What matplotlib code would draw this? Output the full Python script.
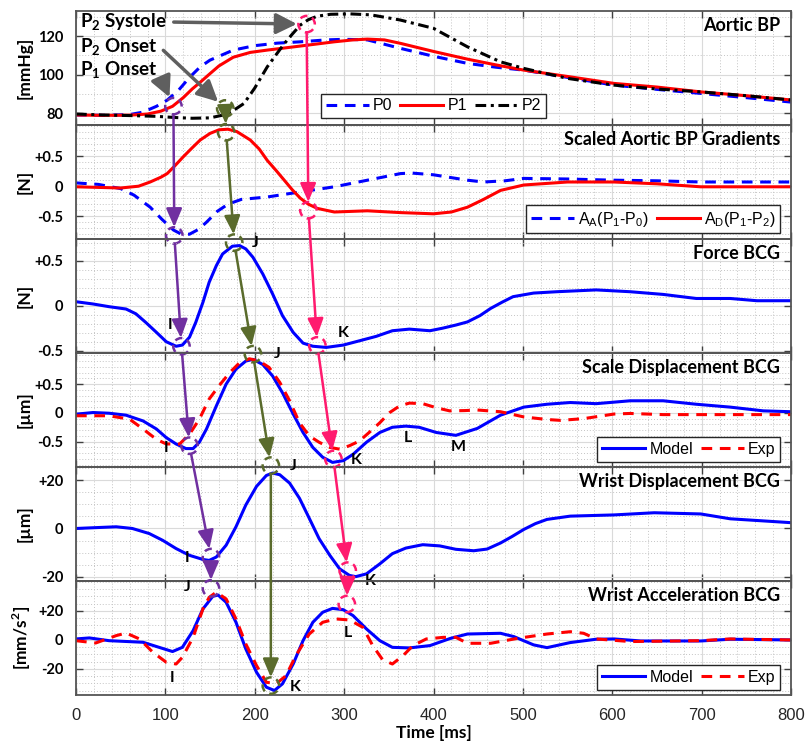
import matplotlib.pyplot as plt
from matplotlib.patches import ConnectionPatch
from matplotlib.ticker import MultipleLocator

plt.rcParams["font.family"] = ["Liberation Sans", "DejaVu Sans"]
plt.rcParams["mathtext.fontset"] = "custom"
plt.rcParams["mathtext.rm"] = "Liberation Sans"
plt.rcParams["mathtext.bf"] = "Lato:bold"
BOLD = ["Lato", "DejaVu Sans"]

# ---- values (time in ms) ----
# Aortic BP [mmHg]
t_p0 = [0, 30, 60, 75, 90, 102, 115, 127, 139, 150, 165, 176, 200, 225, 251, 280, 300, 326,
        363, 400, 438, 470, 501, 550, 602, 650, 699, 750, 800]
p0 = [79, 78.8, 79.2, 80.5, 83.5, 86.7, 92, 98.5, 104, 107.5, 110.5, 112.7, 115, 116.3, 117, 118,
      118.3, 118, 113.6, 109.5, 105.8, 103.8, 102.3, 98.5, 94.5, 92.3, 90.2, 88, 85.7]
t_p1 = [0, 30, 60, 80, 95, 108, 120, 130, 139, 150, 160, 176, 195, 214, 251, 289, 310, 326, 345,
        363, 400, 438, 470, 501, 550, 602, 650, 699, 750, 800]
p1 = [79, 78.8, 78.9, 79.5, 81, 83.5, 88, 92.5, 96, 100.5, 104.5, 109, 111.5, 112.7, 114.8, 117,
      118, 118.4, 118, 116.2, 112, 108, 105, 102.3, 99, 95.4, 93.5, 91, 89, 86.8]
t_p2 = [0, 30, 60, 90, 110, 130, 150, 165, 175, 188, 200, 214, 225, 233, 242, 251, 260, 270, 285,
        307, 330, 363, 400, 438, 475, 501, 550, 602, 650, 699, 750, 800]
p2 = [79.5, 79, 78.7, 78.3, 77.7, 77.3, 77.5, 79, 81, 85, 93, 104, 111, 116, 121, 125.7, 128.5,
      130.3, 131.3, 131.5, 131, 128.3, 124, 114.4, 106.6, 103.2, 98, 94.5, 92.5, 91, 89, 86.8]

# Scaled aortic BP gradients [N]
t_aa = [0, 25, 50, 65, 83, 96, 109, 118, 127, 137, 146, 158, 170, 185, 214, 251, 289, 326, 363,
        375, 400, 438, 456, 480, 501, 550, 602, 650, 699, 750, 800]
aa = [0.055, 0.03, -0.04, -0.15, -0.35, -0.55, -0.73, -0.8, -0.8, -0.72, -0.6, -0.42, -0.3, -0.22,
      -0.18, -0.095, -0.01, 0.1, 0.21, 0.22, 0.19, 0.1, 0.07, 0.09, 0.13, 0.12, 0.1, 0.09, 0.07,
      0.07, 0.07]
t_ad = [0, 50, 70, 83, 95, 102, 110, 120, 130, 139, 150, 160, 170, 180, 195, 205, 214, 224, 233,
        242, 251, 260, 270, 289, 326, 363, 400, 420, 438, 456, 475, 501, 550, 602, 650, 699, 750,
        800]
ad = [-0.01, -0.03, 0.0, 0.07, 0.15, 0.21, 0.33, 0.49, 0.64, 0.77, 0.88, 0.94, 0.95, 0.91, 0.77,
      0.62, 0.43, 0.26, 0.1, -0.06, -0.2, -0.3, -0.37, -0.43, -0.41, -0.44, -0.46, -0.43, -0.35,
      -0.22, -0.07, 0.02, 0.07, 0.07, 0.04, -0.01, -0.01, -0.01]

# Force BCG [N]
t_force = [0, 19, 37, 56, 67, 78, 90, 101, 112, 119, 127, 134, 142, 149, 157, 164, 175, 183, 190,
           198, 209, 220, 231, 243, 254, 265, 280, 299, 317, 336, 354, 373, 396, 410, 425, 438,
           452, 464, 477, 489, 512, 538, 582, 620, 657, 694, 732, 762, 800]
force = [0.044, 0.019, -0.011, -0.037, -0.09, -0.185, -0.296, -0.4, -0.45, -0.437, -0.35, -0.185,
         0.037, 0.26, 0.444, 0.574, 0.66, 0.667, 0.63, 0.537, 0.352, 0.13, -0.11, -0.296, -0.415,
         -0.45, -0.463, -0.437, -0.39, -0.34, -0.278, -0.26, -0.278, -0.25, -0.215, -0.18, -0.11,
         -0.03, 0.04, 0.1, 0.14, 0.155, 0.175, 0.155, 0.125, 0.08, 0.08, 0.055, 0.055]

# Scale displacement BCG [um]
t_sd_model = [0, 19, 37, 56, 75, 90, 101, 112, 123, 131, 138, 146, 157, 168, 179, 190, 198, 209,
              220, 231, 243, 254, 265, 276, 287, 299, 310, 325, 340, 354, 369, 384, 403, 425, 449,
              475, 501, 527, 553, 582, 620, 657, 694, 732, 769, 800]
sd_model = [-0.023, 0.006, -0.006, -0.04, -0.14, -0.28, -0.43, -0.54, -0.62, -0.62, -0.51, -0.28,
            0.12, 0.5, 0.76, 0.9, 0.93, 0.84, 0.64, 0.35, -0.02, -0.34, -0.6, -0.77, -0.86, -0.83,
            -0.72, -0.51, -0.34, -0.25, -0.23, -0.25, -0.34, -0.39, -0.27, -0.04, 0.1, 0.15, 0.18,
            0.16, 0.21, 0.21, 0.15, 0.1, 0.035, 0.02]
t_sd_exp = [0, 37, 60, 75, 90, 101, 116, 127, 138, 149, 160, 172, 183, 194, 205, 216, 228, 239,
            250, 261, 272, 284, 295, 306, 317, 328, 340, 351, 362, 373, 388, 403, 418, 435, 449,
            475, 501, 527, 542, 568, 602, 620, 657, 732, 800]
sd_exp = [-0.05, -0.05, -0.11, -0.28, -0.46, -0.54, -0.54, -0.37, -0.11, 0.24, 0.47, 0.7, 0.87,
          0.94, 0.9, 0.79, 0.53, 0.21, -0.17, -0.4, -0.51, -0.6, -0.63, -0.57, -0.49, -0.34,
          -0.17, 0.006, 0.12, 0.17, 0.16, 0.09, 0.035, 0.04, 0.05, 0.02, -0.07, -0.115, -0.13,
          -0.1, -0.02, -0.01, -0.03, -0.03, -0.03]

# Wrist displacement BCG [um]
t_wd = [0, 19, 45, 63, 82, 97, 112, 127, 142, 149, 157, 168, 179, 190, 202, 213, 220, 228, 239,
        250, 261, 272, 284, 295, 306, 313, 325, 340, 354, 369, 388, 407, 425, 445, 460, 475, 488,
        501, 514, 527, 553, 602, 647, 699, 732, 800]
wd = [0, 0.3, 0.7, 0, -2.1, -4.9, -8.3, -11.1, -12.8, -13.2, -11.8, -6.9, 0.7, 9.7, 17.4, 21.9,
      22.9, 22.2, 18.75, 12.5, 4.2, -4.2, -11.1, -16.7, -19.4, -19.9, -18.75, -14.6, -10.4, -8.1,
      -6.7, -7.2, -8.6, -9.2, -8.5, -6, -3.3, -0.4, 2, 3.75, 5.1, 5.6, 6.5, 6, 4, 2.4]

# Wrist acceleration BCG [mm/s^2]
t_wa_model = [0, 15, 37, 75, 93, 108, 119, 131, 142, 153, 159, 168, 179, 190, 202, 213, 222, 231,
              243, 254, 265, 276, 287, 299, 310, 325, 340, 354, 373, 396, 419, 438, 475, 490, 512,
              527, 553, 582, 602, 632, 699, 732, 800]
wa_model = [0.7, 1.4, -0.5, -1.6, -5.1, -8, -5.1, 6.4, 21.4, 30.1, 31, 26, 12.2, -6.2, -22.3,
            -32.6, -34.9, -30.3, -16.6, -0.5, 12.2, 19.1, 21.8, 20.9, 16.8, 7.6, -0.5, -5.1, -5.5,
            -3.9, 1.1, 4.1, 4.6, 2.3, -3.4, -5.3, -1.8, 0.5, 0.7, -0.7, -0.7, 0.5, 0]
t_wa_exp = [0, 22, 45, 56, 71, 86, 101, 112, 119, 131, 142, 149, 157, 168, 179, 190, 202, 213,
            224, 235, 246, 261, 276, 291, 306, 321, 332, 343, 354, 366, 377, 392, 411, 425, 438,
            464, 494, 527, 553, 568, 582, 620, 699, 732, 800]
wa_exp = [-0.5, -2.1, 3, 4.8, 0.7, -8.5, -15.4, -16.6, -12, 1.8, 21.4, 29.4, 33, 28.3, 14.5,
          -2.8, -17.7, -29.2, -30.3, -24.6, -10.8, 4.1, 12.2, 14.5, 13.8, 8.7, -3.9, -13.6, -16.6,
          -10.8, -3.9, 0.7, 1.8, 1.8, -2.3, -2.3, 1.1, 4.1, 5.7, 4.6, 0.7, -1.1, -0.5, 0.7, 0]

# marked fiducial points, one per panel (time, value)
onset1_t = [109, 110, 118, 127, 151, 151]
onset1_v = [83.6, -0.82, -0.45, -0.57, -11.8, 35.6]
onset2_t = [167, 168, 177, 198, 218, 218]
onset2_v = [82.4, 0.9, 0.70, 1.02, 26, -31.5]
systole_t = [258, 260, 270, 288, 304, 303]
systole_v = [126.2, -0.4, -0.44, -0.80, -17.4, 24.8]

# wave letters: (panel, letter, time, value)
wave_labels = [
    (2, "I", 105, -0.21), (2, "J", 200, 0.70), (2, "K", 299, -0.30),
    (3, "I", 101, -0.61), (3, "J", 225, 1.02), (3, "K", 313, -0.82),
    (3, "L", 371, -0.44), (3, "M", 428, -0.60),
    (4, "I", 124, -12), (4, "J", 243, 25.8), (4, "K", 329, -21.7),
    (5, "J", 124, 36.3), (5, "I", 108, -26), (5, "K", 245, -32.4), (5, "L", 304, 4.8),
]

titles = ["Aortic BP", "Scaled Aortic BP Gradients", "Force BCG", "Scale Displacement BCG",
          "Wrist Displacement BCG", "Wrist Acceleration BCG"]
ylabels = ["[mmHg]", "[N]", "[N]", "[\u00b5m]", "[\u00b5m]", r"[mm/s$^\mathbf{2}$]"]
ylims = [(73.8, 133), (-0.88, 1.02), (-0.525, 0.74), (-0.94, 1.04), (-21.7, 25.4), (-38, 40.7)]
yticks = [[80, 100, 120], [-0.5, 0, 0.5], [-0.5, 0, 0.5], [-0.5, 0, 0.5], [-20, 0, 20],
          [-20, 0, 20]]
yticklabels = [["80", "100", "120"], ["-0.5", "0", "+0.5"], ["-0.5", "0", "+0.5"],
               ["-0.5", "0", "+0.5"], ["-20", "0", "+20"], ["-20", "0", "+20"]]
yminor = [10, 0.1, 0.1, 0.1, 5, 5]

BLUE, RED = "#0000ff", "#ff0000"
PURPLE, OLIVE, PINK, GRAY = "#7030a0", "#5a6b2c", "#ff1a6e", "#5f5f5f"

# ---- layout (pixels of the 806x744 canvas) ----
W, H = 806, 744
LEFT, RIGHT = 76, 791
EDGES = [11, 125, 239, 353, 467, 581, 695]

fig = plt.figure(figsize=(W / 100, H / 100), dpi=100)
axes = []
for i in range(6):
    top, bot = EDGES[i], EDGES[i + 1]
    ax = fig.add_axes([LEFT / W, 1 - bot / H, (RIGHT - LEFT) / W, (bot - top) / H])
    ax.set_facecolor("none")
    ax.set_xlim(0, 800)
    ax.set_ylim(*ylims[i])
    ax.xaxis.set_major_locator(MultipleLocator(100))
    ax.xaxis.set_minor_locator(MultipleLocator(20))
    ax.set_yticks(yticks[i])
    ax.set_yticklabels(yticklabels[i], fontfamily=BOLD, fontweight="bold", fontsize=10.5)
    ax.yaxis.set_minor_locator(MultipleLocator(yminor[i]))
    ax.grid(True, which="major", color="#dadada", lw=0.8)
    ax.grid(True, which="minor", color="#c4c4c4", lw=0.7, ls=(0, (1, 2)))
    ax.set_axisbelow(True)
    ax.tick_params(which="major", direction="in", top=True, right=True, length=5,
                   color="#404040", width=1)
    ax.tick_params(which="minor", length=0)
    ax.tick_params(axis="y", pad=9)
    ax.tick_params(axis="x", pad=9, labelsize=12, labelcolor="#262626")
    for s in ax.spines.values():
        s.set_color("#555555")
        s.set_linewidth(1.3)
    ax.set_ylabel(ylabels[i], fontfamily=BOLD, fontweight="bold", fontsize=12.5)
    ax.yaxis.set_label_coords(-0.06, 0.5)
    ax.text(0.985, 0.95, titles[i], transform=ax.transAxes, ha="right", va="top",
            fontfamily=BOLD, fontweight="bold", fontsize=13, zorder=5)
    if i < 5:
        ax.tick_params(labelbottom=False)
    axes.append(ax)

axes[5].set_xlabel("Time [ms]", fontfamily=BOLD, fontweight="bold", fontsize=12.5, labelpad=2)

LW = 2.2
DASH = (0, (3.5, 2.5))
ax = axes[0]
ax.plot(t_p0, p0, color=BLUE, lw=LW, ls=DASH, label="P0")
ax.plot(t_p1, p1, color=RED, lw=LW, label="P1")
ax.plot(t_p2, p2, color="black", lw=LW, ls=(0, (3.5, 1.5, 1, 1.5)), label="P2")

ax = axes[1]
ax.plot(t_aa, aa, color=BLUE, lw=LW, ls=DASH,
        label=r"A$_\mathregular{A}$(P$_\mathregular{1}$-P$_\mathregular{0}$)")
ax.plot(t_ad, ad, color=RED, lw=LW,
        label=r"A$_\mathregular{D}$(P$_\mathregular{1}$-P$_\mathregular{2}$)")

axes[2].plot(t_force, force, color=BLUE, lw=LW)

ax = axes[3]
ax.plot(t_sd_model, sd_model, color=BLUE, lw=LW, label="Model")
ax.plot(t_sd_exp, sd_exp, color=RED, lw=LW, ls=DASH, label="Exp")

axes[4].plot(t_wd, wd, color=BLUE, lw=LW)

ax = axes[5]
ax.plot(t_wa_model, wa_model, color=BLUE, lw=LW, label="Model")
ax.plot(t_wa_exp, wa_exp, color=RED, lw=LW, ls=DASH, label="Exp")


def add_legend(ax, loc, anchor, ncol):
    leg = ax.legend(loc=loc, bbox_to_anchor=anchor, ncol=ncol, fontsize=11.5, frameon=True,
                    fancybox=False, edgecolor="#262626", framealpha=1, handlelength=2.7,
                    columnspacing=0.5, handletextpad=0.25, borderpad=0.3, borderaxespad=0)
    leg.get_frame().set_linewidth(1.0)
    leg.set_zorder(7)


add_legend(axes[0], "lower center", (0.5, 0.06), 3)
add_legend(axes[1], "lower right", (0.985, 0.05), 2)
add_legend(axes[3], "lower right", (0.985, 0.045), 2)
add_legend(axes[5], "lower right", (0.985, 0.045), 2)

# wave letters
for panel, letter, tt, vv in wave_labels:
    axes[panel].text(tt, vv, letter, ha="center", va="center", fontfamily=BOLD,
                     fontweight="bold", fontsize=11.5, zorder=8, clip_on=False)

# fiducial chains: dashed circles joined by arrows across the panels
for ts, vs, col in [(onset1_t, onset1_v, PURPLE), (onset2_t, onset2_v, OLIVE),
                    (systole_t, systole_v, PINK)]:
    for i in range(6):
        axes[i].scatter([ts[i]], [vs[i]], s=140, facecolors="none", edgecolors=col,
                        linewidths=1.8, linestyles=[(0, (3, 2))], clip_on=False, zorder=9)
    for i in range(5):
        con = ConnectionPatch(xyA=(ts[i], vs[i]), coordsA=axes[i].transData,
                              xyB=(ts[i + 1], vs[i + 1]), coordsB=axes[i + 1].transData,
                              arrowstyle="-|>,head_length=0.7,head_width=0.3", mutation_scale=16,
                              lw=1.8, color=col, shrinkA=6, shrinkB=6)
        fig.add_artist(con)

# gray text arrows in the top panel
text_kw = dict(ha="left", va="center", fontfamily=BOLD, fontweight="bold", fontsize=13.5,
               zorder=10)
arrow_kw = dict(arrowstyle="-|>,head_length=0.7,head_width=0.35", color=GRAY, lw=2.5,
                mutation_scale=18, shrinkA=3, shrinkB=7)
axes[0].annotate(r"P$_\mathbf{2}$ Systole", xy=(systole_t[0], systole_v[0]), xytext=(4.5, 127.3),
                 arrowprops=dict(relpos=(1, 0.5), **arrow_kw), annotation_clip=False, **text_kw)
axes[0].annotate(r"P$_\mathbf{2}$ Onset", xy=(onset2_t[0], onset2_v[0]), xytext=(4.5, 114.3),
                 arrowprops=dict(relpos=(1, 0.6), **arrow_kw), annotation_clip=False, **text_kw)
axes[0].annotate(r"P$_\mathbf{1}$ Onset", xy=(onset1_t[0], onset1_v[0]), xytext=(4.5, 102.3),
                 arrowprops=dict(relpos=(1, 0.5), **arrow_kw), annotation_clip=False, **text_kw)

fig.savefig("out.png", dpi=100)
